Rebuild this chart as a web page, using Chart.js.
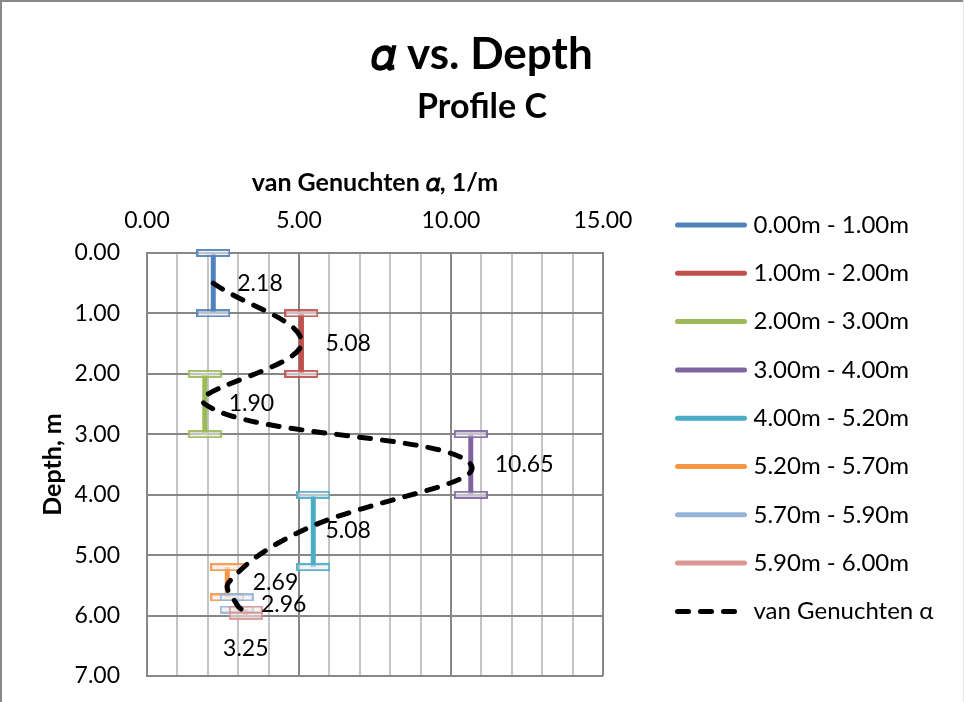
<!DOCTYPE html>
<html>
<head>
<meta charset="utf-8">
<script src="https://cdn.jsdelivr.net/npm/chart.js@4.4.0/dist/chart.umd.min.js"></script>
<style>
html, body { margin: 0; padding: 0; background: #fff; }
</style>
</head>
<body>
<canvas id="alphaChart" width="964" height="702"></canvas>
<script>
/* Layer bars (measured alpha per depth interval) */
var layerNames = ["0.00m - 1.00m", "1.00m - 2.00m", "2.00m - 3.00m", "3.00m - 4.00m",
	"4.00m - 5.20m", "5.20m - 5.70m", "5.70m - 5.90m", "5.90m - 6.00m"];
var layerTop = [0, 1, 2, 3, 4, 5.2, 5.7, 5.9];
var layerBottom = [1, 2, 3, 4, 5.2, 5.7, 5.9, 6.0];
var layerAlpha = [2.18, 5.08, 1.90, 10.65, 5.47, 2.64, 2.95, 3.25];
var layerColors = ["#4F81BD", "#C0504D", "#9BBB59", "#8064A2", "#4BACC6", "#F79646", "#95B3D7", "#D99694"];

/* van Genuchten curve */
var curveName = "van Genuchten α";
var curveAlpha = [2.18, 5.08, 1.90, 10.65, 5.08, 2.69, 2.96, 3.25];
var curveDepth = [0.5, 1.5, 2.5, 3.5, 4.6, 5.45, 5.82, 5.95];
var curveLabelSide = ["right", "right", "right", "right", "right", "right", "right", "below"];

/* Axis ticks */
var alphaTickLabels = [0, 5, 10, 15];
var depthMin = 0;
var depthMax = 7;

Chart.defaults.font.family = "Lato, 'Noto Sans', sans-serif";
Chart.defaults.color = "#000";

function makeCap(color) {
	var c = document.createElement("canvas");
	c.width = 34;
	c.height = 8;
	var g = c.getContext("2d");
	g.fillStyle = "rgba(235,235,235,0.6)";
	g.fillRect(1, 1, 32, 6);
	g.globalAlpha = 0.9;
	g.strokeStyle = color;
	g.lineWidth = 2;
	g.strokeRect(1, 1, 32, 6);
	return c;
}

var datasets = [];
for (var i = 0; i < layerNames.length; i++) {
	datasets.push({
		label: layerNames[i],
		data: [{ x: layerAlpha[i], y: layerTop[i] }, { x: layerAlpha[i], y: layerBottom[i] }],
		showLine: true,
		borderColor: layerColors[i],
		backgroundColor: layerColors[i],
		borderWidth: 5,
		pointStyle: makeCap(layerColors[i]),
		pointRadius: 4,
		clip: false,
		order: -i
	});
}
var curvePoints = [];
for (var i = 0; i < curveAlpha.length; i++) {
	curvePoints.push({ x: curveAlpha[i], y: curveDepth[i] });
}
datasets.push({
	label: curveName,
	data: curvePoints,
	showLine: true,
	borderColor: "#000",
	backgroundColor: "#000",
	borderWidth: 5,
	borderDash: [11, 12],
	borderCapStyle: "round",
	tension: 0.4,
	pointRadius: 0,
	clip: false,
	order: -100
});
var curveIndex = datasets.length - 1;

/* chart frame + white background */
var framePlugin = {
	id: "frame",
	beforeDraw: function (chart) {
		var ctx = chart.ctx;
		ctx.save();
		ctx.fillStyle = "#fff";
		ctx.fillRect(0, 0, chart.width, chart.height);
		ctx.fillStyle = "#898989";
		ctx.fillRect(0, 0, chart.width, 2);
		ctx.fillRect(0, 0, 2, chart.height);
		ctx.fillStyle = "#e6e6e6";
		ctx.fillRect(chart.width - 1, 0, 1, chart.height);
		ctx.restore();
	}
};

/* value labels next to the curve points */
var curveLabelPlugin = {
	id: "curveLabels",
	afterDatasetsDraw: function (chart) {
		var ctx = chart.ctx;
		var meta = chart.getDatasetMeta(curveIndex);
		ctx.save();
		ctx.font = "23px Lato";
		ctx.fillStyle = "#000";
		ctx.textBaseline = "middle";
		meta.data.forEach(function (pt, i) {
			var txt = curveAlpha[i].toFixed(2);
			if (curveLabelSide[i] == "below") {
				ctx.textAlign = "center";
				ctx.fillText(txt, pt.x, pt.y + 36);
			}
			else {
				ctx.textAlign = "left";
				ctx.fillText(txt, pt.x + 24, pt.y);
			}
		});
		ctx.restore();
	}
};

/* legend on the right side */
var sideLegendPlugin = {
	id: "sideLegend",
	afterDraw: function (chart) {
		var ctx = chart.ctx;
		var x0 = chart.chartArea.right + 74.5;
		var y0 = 225;
		var step = 48.3;
		ctx.save();
		chart.data.datasets.forEach(function (ds, i) {
			var y = y0 + i * step;
			ctx.strokeStyle = ds.borderColor;
			ctx.lineWidth = 5;
			ctx.lineCap = "round";
			ctx.setLineDash(ds.borderDash || []);
			ctx.beginPath();
			ctx.moveTo(x0, y);
			ctx.lineTo(x0 + 67, y);
			ctx.stroke();
			ctx.setLineDash([]);
			ctx.fillStyle = "#000";
			ctx.font = "24px Lato";
			ctx.textAlign = "left";
			ctx.textBaseline = "middle";
			ctx.fillText(ds.label, x0 + 76, y);
		});
		ctx.restore();
	}
};

var ctx = document.getElementById("alphaChart").getContext("2d");
var myChart = new Chart(ctx, {
	type: "scatter",
	data: { datasets: datasets },
	plugins: [framePlugin, curveLabelPlugin, sideLegendPlugin],
	options: {
		responsive: false,
		animation: false,
		devicePixelRatio: 1,
		layout: { padding: { top: 0, left: 0, right: 0, bottom: 26 } },
		plugins: {
			legend: { display: false },
			tooltip: { enabled: false },
			title: {
				display: true,
				text: "𝛼 vs. Depth",
				font: { size: 44, weight: "bold" },
				color: "#000",
				padding: { top: 28.6, bottom: 0 }
			},
			subtitle: {
				display: true,
				text: "Profile C",
				font: { size: 34, weight: "bold" },
				color: "#000",
				padding: { top: 5.2, bottom: 0 }
			}
		},
		scales: {
			x: {
				type: "linear",
				position: "top",
				min: 0,
				max: 15,
				ticks: {
					stepSize: 1,
					autoSkip: false,
					maxRotation: 0,
					padding: 19,
					font: { size: 23 },
					color: "#000",
					callback: function (v) {
						return alphaTickLabels.indexOf(v) >= 0 ? v.toFixed(2) : "";
					}
				},
				grid: {
					drawTicks: false,
					lineWidth: 2,
					color: function (c) {
						return (c.tick && c.tick.value % 5 == 0) ? "#878787" : "#c4c4c4";
					}
				},
				border: { color: "#878787", width: 2 },
				title: {
					display: true,
					text: "van Genuchten 𝛼, 1/m",
					font: { size: 25, weight: "bold" },
					color: "#000",
					padding: { top: 40.6, bottom: 0 }
				},
				afterFit: function (s) { s.height = 125.6; }
			},
			y: {
				type: "linear",
				position: "left",
				reverse: true,
				min: depthMin,
				max: depthMax,
				ticks: {
					stepSize: 1,
					padding: 0,
					font: { size: 23 },
					color: "#000",
					callback: function (v) { return v.toFixed(2); }
				},
				grid: {
					drawTicks: true,
					tickLength: 27,
					tickColor: "rgba(0,0,0,0)",
					lineWidth: 2,
					color: "#878787"
				},
				border: { color: "#878787", width: 2 },
				title: {
					display: true,
					text: "Depth, m",
					font: { size: 25, weight: "bold" },
					color: "#000",
					padding: { top: 37.5, bottom: 0 }
				},
				afterFit: function (s) { s.width = 147; }
			},
			yLegendSpace: {
				type: "linear",
				position: "right",
				display: true,
				ticks: { display: false },
				grid: { display: false },
				border: { display: false },
				afterFit: function (s) { s.width = 361; }
			}
		}
	}
});
</script>
</body>
</html>
